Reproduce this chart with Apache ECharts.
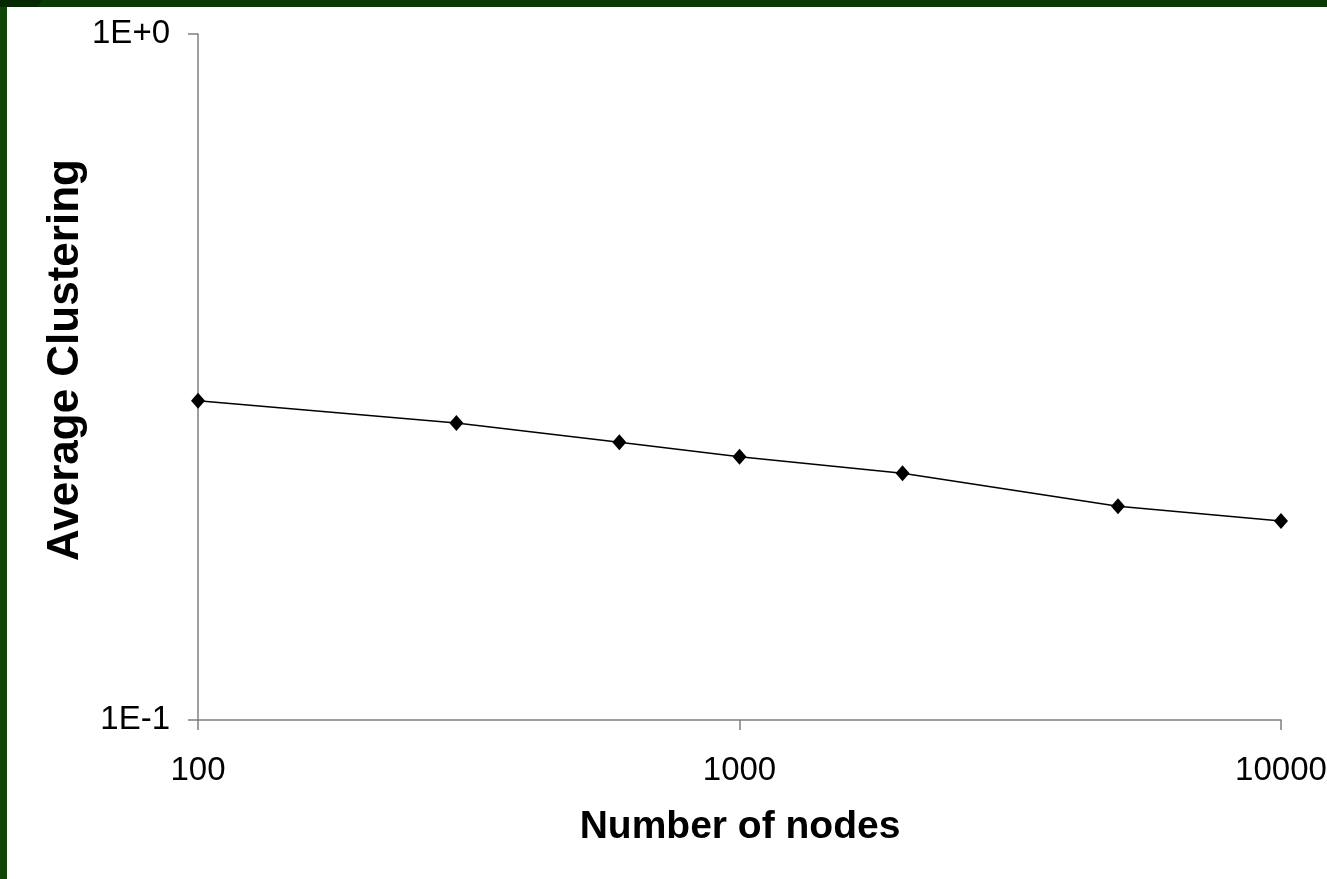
<!DOCTYPE html>
<html>
<head>
<meta charset="utf-8">
<script src="https://cdn.jsdelivr.net/npm/echarts@6/dist/echarts.min.js"></script>
<style>
  html, body { margin: 0; padding: 0; width: 1327px; height: 879px; overflow: hidden; background: #0e4607; }
  #topbar { position: absolute; left: 0; top: 0; width: 1327px; height: 7px; background: #0a3a04; }
  #corner { position: absolute; left: 0; top: 0; width: 48px; height: 7px; background: linear-gradient(120deg, #052a02 0%, #052a02 80%, #0a3a04 82%); }
  #leftbar { position: absolute; left: 0; top: 7px; width: 7px; height: 872px; background: #0e4607; }
  #paper { position: absolute; left: 7px; top: 7px; width: 1320px; height: 872px; background: #ffffff; }
  #chart { position: absolute; left: 0; top: 0; width: 1327px; height: 879px; }
</style>
</head>
<body>
<div id="topbar"></div>
<div id="corner"></div>
<div id="leftbar"></div>
<div id="paper"></div>
<div id="chart"></div>
<script>
// Data
const nodeCounts = [100, 300, 600, 1000, 2000, 5000, 10000];
const avgClustering = [0.292, 0.271, 0.254, 0.242, 0.229, 0.205, 0.195];
const xTitle = 'Number of nodes';
const yTitle = 'Average Clustering';

const FONT = '"Liberation Sans", Arial, Helvetica, sans-serif';
const points = nodeCounts.map((n, i) => [n, avgClustering[i]]);

function sciLabel(v) {
  const e = Math.round(Math.log10(v));
  return '1E' + (e >= 0 ? '+' : '') + e;
}
function plainLabel(v) {
  return String(Math.round(v));
}

const chart = echarts.init(document.getElementById('chart'), null, { renderer: 'canvas' });
chart.setOption({
  backgroundColor: 'transparent',
  animation: false,
  grid: { left: 198, right: 46, top: 34, bottom: 159, outerBoundsMode: 'none', containLabel: false },
  xAxis: {
    type: 'log',
    logBase: 10,
    min: 100,
    max: 10000,
    axisLine: { show: true, onZero: false, lineStyle: { color: '#7f7f7f', width: 1.5 } },
    axisTick: { show: true, inside: false, length: 10, lineStyle: { color: '#7f7f7f', width: 1.5 } },
    minorTick: { show: false },
    splitLine: { show: false },
    axisLabel: { margin: 34, fontSize: 33, fontFamily: FONT, color: '#000000', formatter: plainLabel, hideOverlap: false }
  },
  yAxis: {
    type: 'log',
    logBase: 10,
    min: 0.1,
    max: 1,
    axisLine: { show: true, lineStyle: { color: '#7f7f7f', width: 1.5 } },
    axisTick: { show: true, inside: false, length: 10, lineStyle: { color: '#7f7f7f', width: 1.5 } },
    minorTick: { show: false },
    splitLine: { show: false },
    axisLabel: { margin: 28, fontSize: 33, fontFamily: FONT, color: '#000000', formatter: sciLabel }
  },
  series: [{
    type: 'line',
    data: points,
    symbol: 'diamond',
    symbolSize: [14, 16],
    itemStyle: { color: '#000000' },
    lineStyle: { color: '#000000', width: 1.5 },
    clip: false
  }],
  graphic: [
    {
      type: 'text',
      x: 740, y: 827,
      style: { text: xTitle, fontSize: 39, fontWeight: 'bold', fontFamily: FONT, fill: '#000000', align: 'center', verticalAlign: 'middle' }
    },
    {
      type: 'text',
      x: 66, y: 360,
      rotation: Math.PI / 2,
      style: { text: yTitle, fontSize: 44, fontWeight: 'bold', fontFamily: FONT, fill: '#000000', align: 'center', verticalAlign: 'middle' }
    }
  ]
});
</script>
</body>
</html>
